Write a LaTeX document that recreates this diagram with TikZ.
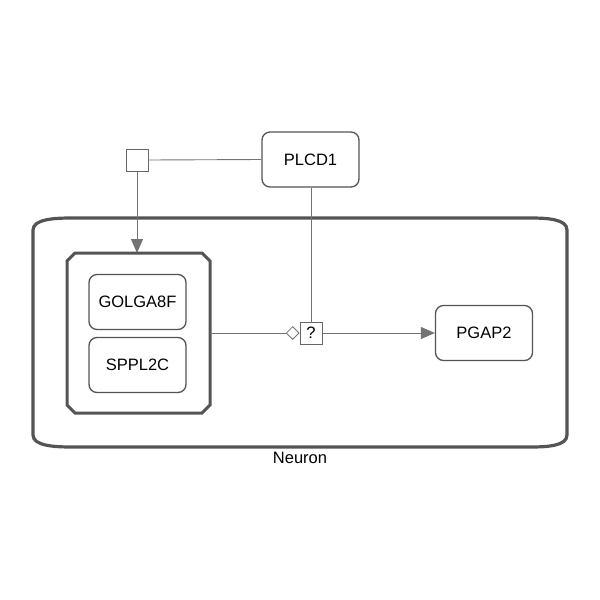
\documentclass[tikz,border=0pt]{standalone}
\usepackage{fontspec}
\setmainfont{Liberation Sans}
\usetikzlibrary{arrows.meta,shapes.geometric}
\begin{document}
\begin{tikzpicture}[x=1pt,y=-1pt,
  every node/.style={font=\fontsize{16.5}{20}\selectfont},
  entity/.style={draw=black!67, line width=1.3pt, rounded corners=8pt, fill=white, minimum width=97pt, minimum height=55pt, inner sep=0pt},
  conn/.style={draw=black!55, line width=0.9pt},
  arr/.style={conn, -{Triangle[length=14pt,width=12pt]}, shorten >=0pt},
  qbox/.style={draw=black!60, line width=0.9pt, fill=white, minimum size=22pt, inner sep=0pt},
  cmplx/.style={draw=black!67, line width=3pt},
  comp/.style={draw=black!67, line width=3.2pt}
]
\useasboundingbox (0,0) rectangle (600,600);
% compartment
\draw[comp] (33,230) .. controls (33,219) and (55,218) .. (72,218) -- (530,218)
  .. controls (547,218) and (567,219) .. (567,230) -- (567,435)
  .. controls (567,446) and (547,447) .. (530,447) -- (72,447)
  .. controls (55,447) and (33,446) .. (33,435) -- cycle;
\node (neuron) at (300,458) {Neuron};
% complex
\draw[cmplx] (75,253) -- (202,253) -- (210,261) -- (210,405) -- (202,413) -- (75,413) -- (67,405) -- (67,261) -- cycle;
\coordinate (cxtop) at (137,253);
\coordinate (cxright) at (210,333);
\node[entity] (golga) at (137.5,302) {GOLGA8F};
\node[entity] (sppl) at (137.5,365) {SPPL2C};
% top
\node[qbox] (sq) at (137,160) {};
\node[entity] (plcd) at (310.5,159.5) {PLCD1};
\node[entity] (pgap) at (484,333) {PGAP2};
\node[qbox] (q) at (311,333) {?};
\node[diamond, draw=black!55, line width=0.8pt, fill=white, inner sep=0pt, minimum width=13pt, minimum height=13pt, anchor=east] (dia) at (q.west) {};
% connectors
\draw[conn] (sq.east) -- (plcd.west);
\draw[arr] (sq.south) -- (cxtop);
\draw[conn] (plcd.south -| q.north) -- (q.north);
\draw[conn] (cxright) -- (dia.west);
\draw[arr] (q.east) -- (pgap.west);
\end{tikzpicture}
\end{document}
